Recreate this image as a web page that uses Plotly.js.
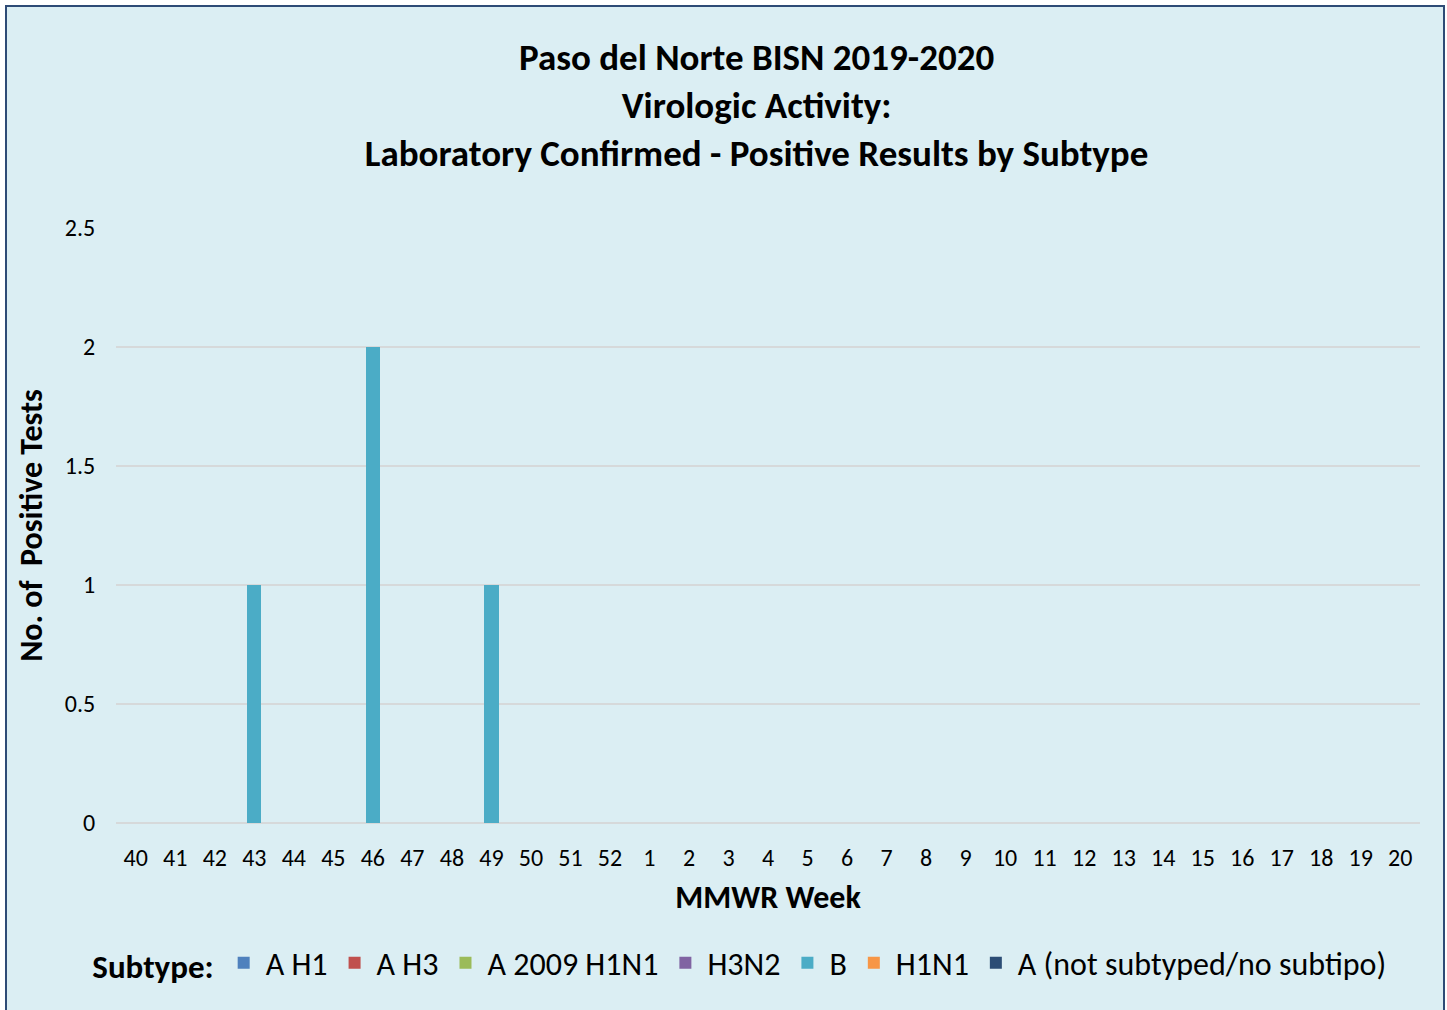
<!DOCTYPE html>
<html>
<head>
<meta charset="utf-8">
<script src="https://cdn.plot.ly/plotly-3.0.1.min.js"></script>
<style>
  html, body { margin: 0; padding: 0; background: #ffffff; overflow: hidden; }
  #frame { position: absolute; left: 5px; top: 5px; width: 1440px; height: 1012px;
           box-sizing: border-box; border: 2px solid #2E4B76; border-bottom: none; background: #DBEEF3; }
  #chart { width: 1436px; height: 1003px; }
</style>
</head>
<body>
<div id="frame"><div id="chart"></div></div>
<script>
const weeks = ['40','41','42','43','44','45','46','47','48','49','50','51','52',
  '1','2','3','4','5','6','7','8','9','10','11','12','13','14','15','16','17','18','19','20'];
const seriesNames = ['A H1','A H3','A 2009 H1N1','H3N2','B','H1N1','A (not subtyped/no subtipo)'];
const seriesColors = ['#4F81BD','#C0504D','#9BBB59','#8064A2','#4BACC6','#F79646','#2C4D75'];
const aH1      = [0,0,0,0,0,0,0,0,0,0,0,0,0,0,0,0,0,0,0,0,0,0,0,0,0,0,0,0,0,0,0,0,0];
const aH3      = [0,0,0,0,0,0,0,0,0,0,0,0,0,0,0,0,0,0,0,0,0,0,0,0,0,0,0,0,0,0,0,0,0];
const a2009    = [0,0,0,0,0,0,0,0,0,0,0,0,0,0,0,0,0,0,0,0,0,0,0,0,0,0,0,0,0,0,0,0,0];
const h3n2     = [0,0,0,0,0,0,0,0,0,0,0,0,0,0,0,0,0,0,0,0,0,0,0,0,0,0,0,0,0,0,0,0,0];
const fluB     = [0,0,0,1,0,0,2,0,0,1,0,0,0,0,0,0,0,0,0,0,0,0,0,0,0,0,0,0,0,0,0,0,0];
const h1n1     = [0,0,0,0,0,0,0,0,0,0,0,0,0,0,0,0,0,0,0,0,0,0,0,0,0,0,0,0,0,0,0,0,0];
const aNotSub  = [0,0,0,0,0,0,0,0,0,0,0,0,0,0,0,0,0,0,0,0,0,0,0,0,0,0,0,0,0,0,0,0,0];
const seriesValues = [aH1, aH3, a2009, h3n2, fluB, h1n1, aNotSub];

const FONT = 'Carlito, Lato, "Liberation Sans", sans-serif';

const traces = seriesNames.map((name, i) => ({
  type: 'bar',
  name: name,
  x: weeks,
  y: seriesValues[i],
  marker: { color: seriesColors[i], line: { width: 0 } },
  hoverinfo: 'x+y+name'
}));

const layout = {
  width: 1436,
  height: 1003,
  paper_bgcolor: '#DBEEF3',
  plot_bgcolor: '#DBEEF3',
  barmode: 'stack',
  bargap: 0.64,
  margin: { l: 109, r: 23, t: 221, b: 187 },
  font: { family: FONT, color: '#000000' },
  title: {
    text: '<b>Paso del Norte BISN 2019-2020<br>Virologic Activity:<br>Laboratory Confirmed - Positive Results by Subtype</b>',
    font: { family: FONT, size: 37, color: '#000000' },
    xref: 'container', x: 0.522, xanchor: 'center',
    yref: 'container', y: 0.937, yanchor: 'top'
  },
  xaxis: {
    type: 'category',
    tickfont: { family: FONT, size: 24, color: '#000000' },
    ticks: 'outside', ticklen: 13, tickcolor: 'rgba(0,0,0,0)',
    showline: false, showgrid: false, zeroline: false,
    title: { text: '<b>MMWR Week</b>', font: { family: FONT, size: 32, color: '#000000' }, standoff: 14 }
  },
  yaxis: {
    range: [0, 2.5],
    dtick: 0.5,
    tickfont: { family: FONT, size: 24, color: '#000000' },
    ticks: 'outside', ticklen: 15, tickcolor: 'rgba(0,0,0,0)',
    showgrid: true, gridcolor: '#D6D9DA', gridwidth: 2,
    zeroline: true, zerolinecolor: '#D6D9DA', zerolinewidth: 2,
    showline: false,
    title: { text: '<b>No. of  Positive Tests</b>', font: { family: FONT, size: 32, color: '#000000' }, standoff: 12 }
  },
  showlegend: true,
  legend: {
    orientation: 'h',
    xref: 'container', x: 0.058, xanchor: 'left',
    yref: 'container', y: 0.047, yanchor: 'middle',
    bgcolor: 'rgba(0,0,0,0)',
    font: { family: FONT, size: 32, color: '#000000' },
    title: { text: '<b>Subtype:</b>', font: { family: FONT, size: 33, color: '#000000' }, side: 'left' },
    traceorder: 'normal',
    itemwidth: 34
  }
};

Plotly.newPlot('chart', traces, layout, { displayModeBar: false, staticPlot: true });
</script>
</body>
</html>
